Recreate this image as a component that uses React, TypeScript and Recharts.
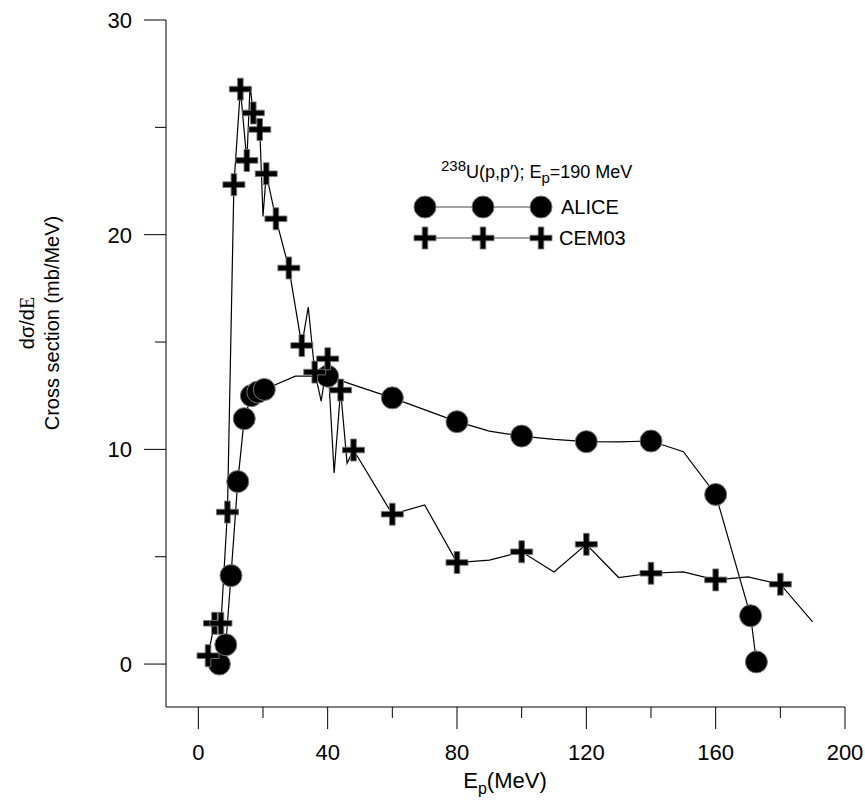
import React from "react";
import { ComposedChart, Line, Scatter, XAxis, YAxis } from "recharts";

// ---- data ----
// ALICE: line vertices (every computed point)
const aliceLineE = [6.5, 8.5, 10.1, 12.2, 14.2, 16.4, 18.4, 20.4, 30, 40, 50, 60, 80, 90, 100, 110, 120, 130, 140, 150, 160, 170.8, 172.6];
const aliceLineV = [0, 0.9, 4.12, 8.5, 11.43, 12.5, 12.67, 12.79, 13.41, 13.41, 12.9, 12.4, 11.29, 10.85, 10.62, 10.47, 10.36, 10.35, 10.39, 9.89, 7.9, 2.25, 0.1];
// ALICE: points shown with markers
const aliceMarkE = [6.5, 8.5, 10.1, 12.2, 14.2, 16.4, 18.4, 20.4, 40, 60, 80, 100, 120, 140, 160, 170.8, 172.6];
const aliceMarkV = [0, 0.9, 4.12, 8.5, 11.43, 12.5, 12.67, 12.79, 13.41, 12.4, 11.29, 10.62, 10.36, 10.39, 7.9, 2.25, 0.1];

// CEM03: line vertices
const cemLineE = [3, 5, 7, 9, 11, 13, 15, 16, 17, 19, 20, 21, 24, 28, 32, 34, 36, 38, 40, 42, 44, 46, 48, 60, 70, 80, 90, 100, 110, 120, 130, 140, 150, 160, 170, 180, 190];
const cemLineV = [0.39, 1.9, 1.9, 7.08, 22.33, 26.78, 23.46, 26.93, 25.67, 24.9, 20.85, 22.84, 20.74, 18.45, 14.84, 16.63, 13.6, 12.25, 14.22, 8.9, 12.76, 9.35, 9.97, 6.98, 7.41, 4.73, 4.84, 5.23, 4.29, 5.58, 4.03, 4.23, 4.29, 3.92, 4.06, 3.72, 1.97];
// CEM03: points shown with markers
const cemMarkE = [3, 5, 7, 9, 11, 13, 15, 17, 19, 21, 24, 28, 32, 36, 40, 44, 48, 60, 80, 100, 120, 140, 160, 180];
const cemMarkV = [0.39, 1.9, 1.9, 7.08, 22.33, 26.78, 23.46, 25.67, 24.9, 22.84, 20.74, 18.45, 14.84, 13.6, 14.22, 12.76, 9.97, 6.98, 4.73, 5.23, 5.58, 4.23, 3.92, 3.72];

const xTicks = [0, 20, 40, 60, 80, 100, 120, 140, 160, 180, 200];
const yTicks = [0, 5, 10, 15, 20, 25, 30];

const zip = (es: number[], vs: number[]) => es.map((e, i) => ({ e, v: vs[i] }));
const aliceLine = zip(aliceLineE, aliceLineV);
const aliceMarks = zip(aliceMarkE, aliceMarkV);
const cemLine = zip(cemLineE, cemLineV);
const cemMarks = zip(cemMarkE, cemMarkV);

const FONT = "'Liberation Sans', Arial, Helvetica, sans-serif";

const plusPath = (cx: number, cy: number, L = 11, t = 2.8) =>
  `M${cx - t},${cy - L}H${cx + t}V${cy - t}H${cx + L}V${cy + t}H${cx + t}V${cy + L}H${cx - t}V${cy + t}H${cx - L}V${cy - t}H${cx - t}Z`;

const CircleMark = (p: any) => (
  <circle cx={p.cx} cy={p.cy} r={11} fill="#000" stroke="#777" strokeWidth={1} />
);
const PlusMark = (p: any) => (
  <path d={plusPath(p.cx, p.cy)} fill="#000" stroke="#777" strokeWidth={0.9} />
);

const YTick = (p: any) => {
  const { x, y, payload } = p;
  const major = payload.value % 10 === 0;
  return (
    <g>
      <line x1={x - (major ? 22 : 11)} x2={x} y1={y} y2={y} stroke="#000" strokeWidth={1} />
      {major && (
        <text x={x - 34} y={y + 8} textAnchor="end" fontSize={22} fontFamily={FONT} fill="#000">
          {payload.value}
        </text>
      )}
    </g>
  );
};

const XTick = (p: any) => {
  const { x, y, payload } = p;
  const major = payload.value % 40 === 0;
  return (
    <g>
      <line x1={x} x2={x} y1={y} y2={y + (major ? 22 : 11)} stroke="#000" strokeWidth={1} />
      {major && (
        <text x={x} y={y + 53} textAnchor="middle" fontSize={22} fontFamily={FONT} fill="#000">
          {payload.value}
        </text>
      )}
    </g>
  );
};

export default function App() {
  return (
    <div style={{ position: "absolute", left: 0, top: 0, width: 865, height: 803, background: "#fff" }}>
      <ComposedChart width={865} height={803} margin={{ top: 20, right: 20, bottom: 0, left: 0 }}>
        <XAxis
          type="number"
          dataKey="e"
          domain={[-10, 200]}
          ticks={xTicks}
          height={96}
          tickSize={0}
          tickMargin={0}
          tickLine={false}
          axisLine={{ stroke: "#000", strokeWidth: 1 }}
          tick={XTick}
          interval={0}
        />
        <YAxis
          type="number"
          domain={[-2, 30]}
          ticks={yTicks}
          width={166}
          tickSize={0}
          tickMargin={0}
          tickLine={false}
          axisLine={{ stroke: "#000", strokeWidth: 1 }}
          tick={YTick}
          interval={0}
        />
        <Line data={aliceLine} dataKey="v" stroke="#000" strokeWidth={1.2} dot={false} isAnimationActive={false} />
        <Scatter data={aliceMarks} dataKey="v" shape={CircleMark} isAnimationActive={false} />
        <Line data={cemLine} dataKey="v" stroke="#000" strokeWidth={1.2} dot={false} isAnimationActive={false} />
        <Scatter data={cemMarks} dataKey="v" shape={PlusMark} isAnimationActive={false} />
      </ComposedChart>
      <svg width={865} height={803} style={{ position: "absolute", left: 0, top: 0, pointerEvents: "none" }}>
        {/* legend */}
        <text x={441} y={178} fontSize={18} fontFamily={FONT} fill="#000">
          <tspan fontSize={15} dy={-7}>238</tspan>
          <tspan dy={7}>U(p,p′); E</tspan>
          <tspan fontSize={15} dy={5}>p</tspan>
          <tspan dy={-5}>=190 MeV</tspan>
        </text>
        <line x1={425} x2={541} y1={207} y2={207} stroke="#444" strokeWidth={1.2} />
        {[425, 483, 541].map((cx) => (
          <circle key={cx} cx={cx} cy={207} r={11} fill="#000" stroke="#777" strokeWidth={1} />
        ))}
        <text x={561} y={214} fontSize={20} fontFamily={FONT} fill="#000">ALICE</text>
        <line x1={425} x2={541} y1={238} y2={238} stroke="#444" strokeWidth={1.2} />
        {[425, 483, 541].map((cx) => (
          <path key={cx} d={plusPath(cx, 238)} fill="#000" stroke="#777" strokeWidth={0.9} />
        ))}
        <text x={559} y={245} fontSize={20} fontFamily={FONT} fill="#000">CEM03</text>
        {/* axis titles */}
        <text x={505} y={788} textAnchor="middle" fontSize={22} fontFamily={FONT} fill="#000">
          <tspan>E</tspan>
          <tspan fontSize={16} dy={6}>p</tspan>
          <tspan dy={-6}>(MeV)</tspan>
        </text>
        <text transform="translate(34,323) rotate(-90)" textAnchor="middle" fontSize={20} fontFamily={FONT} fill="#000">
          <tspan>dσ/d</tspan>
          <tspan fontFamily="'Liberation Serif', 'Times New Roman', serif">E</tspan>
        </text>
        <text transform="translate(59,323) rotate(-90)" textAnchor="middle" fontSize={20} fontFamily={FONT} fill="#000">
          Cross section (mb/MeV)
        </text>
      </svg>
    </div>
  );
}
